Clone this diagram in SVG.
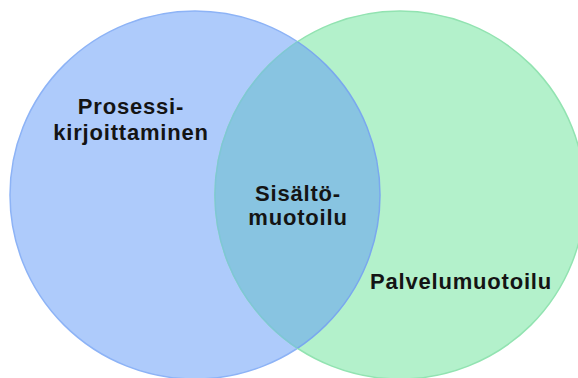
<svg xmlns="http://www.w3.org/2000/svg" width="578" height="378" viewBox="0 0 578 378">
  <style>
    .lbl { font-family: "Liberation Sans", Arial, sans-serif; font-size: 22px; font-weight: bold; fill: #141414; text-anchor: middle; letter-spacing: 0.8px; }
  </style>
  <defs>
    <clipPath id="clipLeft">
      <ellipse cx="195" cy="195" rx="185" ry="184"/>
    </clipPath>
    <clipPath id="clipRight">
      <ellipse cx="400" cy="195" rx="185" ry="184"/>
    </clipPath>
  </defs>
  <rect width="578" height="378" fill="#ffffff"/>

  <g id="set-prosessikirjoittaminen">
    <ellipse cx="195" cy="195" rx="185" ry="184" fill="#aecbfb" stroke="#8db3f6" stroke-width="1.5"/>
  </g>
  <g id="set-palvelumuotoilu">
    <ellipse cx="400" cy="195" rx="185" ry="184" fill="#b3f1cb" stroke="#92e3b1" stroke-width="1.5"/>
  </g>
  <g id="set-sisaltomuotoilu">
    <!-- intersection of the two sets -->
    <ellipse cx="400" cy="195" rx="185" ry="184" fill="#88c4e1" clip-path="url(#clipLeft)"/>
    <ellipse cx="400" cy="195" rx="185" ry="184" fill="none" stroke="#7fc6d6" stroke-width="1.5" clip-path="url(#clipLeft)"/>
    <ellipse cx="195" cy="195" rx="185" ry="184" fill="none" stroke="#7aa8ee" stroke-width="1.5" clip-path="url(#clipRight)"/>
  </g>

  <g id="labels">
    <text class="lbl" x="131" y="114">Prosessi-</text>
    <text class="lbl" x="131" y="140">kirjoittaminen</text>
    <text class="lbl" x="298" y="201">Sisältö-</text>
    <text class="lbl" x="298" y="225">muotoilu</text>
    <text class="lbl" x="461" y="289">Palvelumuotoilu</text>
  </g>
</svg>
